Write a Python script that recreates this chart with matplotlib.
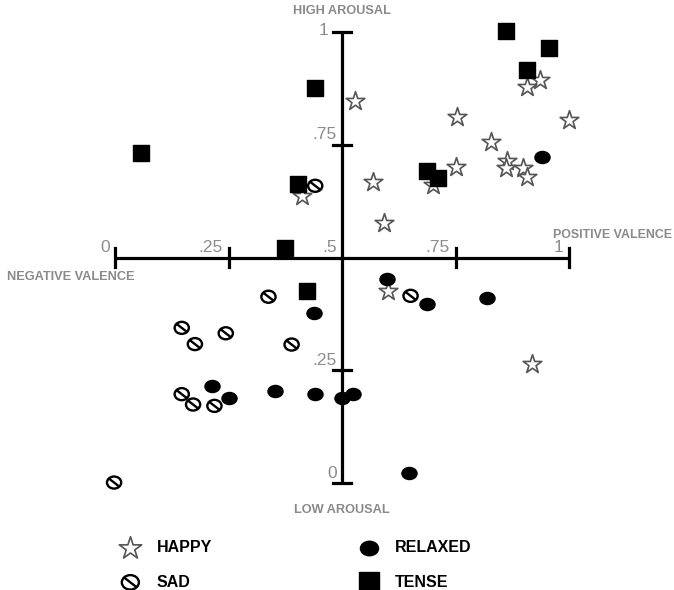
import numpy as np
import matplotlib
matplotlib.use("Agg")
from matplotlib import pyplot as plt
from matplotlib.path import Path

# valence (x) / arousal (y) values
happy_x = [0.529, 0.753, 1.000, 0.828, 0.864, 0.861, 0.899, 0.908, 0.936, 0.908,
           0.750, 0.700, 0.568, 0.593, 0.411, 0.602, 0.919]
happy_y = [0.847, 0.812, 0.805, 0.757, 0.714, 0.698, 0.698, 0.679, 0.894, 0.877,
           0.700, 0.661, 0.668, 0.576, 0.636, 0.426, 0.264]

sad_x = [0.441, 0.338, 0.147, 0.176, 0.244, 0.389, 0.147, 0.172, 0.219, -0.002, 0.651]
sad_y = [0.659, 0.413, 0.344, 0.308, 0.332, 0.307, 0.197, 0.174, 0.171, 0.001, 0.415]

relaxed_x = [0.941, 0.600, 0.688, 0.819, 0.499, 0.524, 0.648, 0.438, 0.214, 0.251, 0.352, 0.441]
relaxed_y = [0.722, 0.452, 0.397, 0.410, 0.188, 0.197, 0.022, 0.376, 0.216, 0.188, 0.205, 0.197]

tense_x = [0.057, 0.441, 0.403, 0.374, 0.423, 0.861, 0.956, 0.907, 0.687, 0.711]
tense_y = [0.732, 0.876, 0.663, 0.521, 0.426, 1.002, 0.965, 0.916, 0.692, 0.676]

tick_vals = [0, 0.25, 0.5, 0.75, 1]
tick_labels = ["0", ".25", ".5", ".75", "1"]

plt.rcParams['font.family'] = ['Liberation Sans', 'DejaVu Sans']

# slightly wide ellipse, with a "\" stroke for the sad marker
circ = Path.unit_circle()
ell_verts = circ.vertices * np.array([1.18, 1.0])
ellipse = Path(ell_verts, circ.codes)
slash = Path([(-0.80, 0.62), (0.80, -0.62)], [Path.MOVETO, Path.LINETO])
sad_marker = Path.make_compound_path(ellipse, slash)
relaxed_marker = Path(circ.vertices * np.array([1.25, 1.0]), circ.codes)

fig = plt.figure(figsize=(6.74, 5.9), dpi=100)
ax = fig.add_axes([0, 0, 1, 1])
ax.set_xlim(-115 / 454, (674 - 115) / 454)
ax.set_ylim((483 - 590) / 451, 483 / 451)
ax.axis("off")

# cross shaped axes
ax.plot([0, 1], [0.5, 0.5], color="black", lw=2.3, solid_capstyle="butt", zorder=1)
ax.plot([0.5, 0.5], [0, 1], color="black", lw=2.3, solid_capstyle="butt", zorder=1)
tick_col = "#8c8c8c"
for t, lab in zip(tick_vals, tick_labels):
    if t != 0.5:
        ax.plot([t, t], [0.48, 0.52], color="black", lw=2.3, zorder=1)
        ax.plot([0.48, 0.52], [t, t], color="black", lw=2.3, zorder=1)
    ax.text(t - 0.012, 0.505, lab, color=tick_col, fontsize=12.5, ha="right", va="bottom")
    if t == 1:
        ax.text(0.469, t + 0.004, lab, color=tick_col, fontsize=12.5, ha="right", va="center")
    elif t != 0.5:
        ax.text(0.488, t + 0.005, lab, color=tick_col, fontsize=12.5, ha="right", va="bottom")

lab_kw = dict(color="#8a8a8a", fontsize=9.2, fontweight="bold")
ax.text(0.5, 1.047, "HIGH AROUSAL", ha="center", va="center", **lab_kw)
ax.text(0.5, -0.06, "LOW AROUSAL", ha="center", va="center", **lab_kw)
ax.text(-0.238, 0.456, "NEGATIVE VALENCE", ha="left", va="center", **lab_kw)
ax.text(0.965, 0.549, "POSITIVE VALENCE", ha="left", va="center",
        color="#8a8a8a", fontsize=8.9, fontweight="bold")

ax.scatter(happy_x, happy_y, marker="*", s=200, facecolors="white",
           edgecolors="#555555", linewidths=1.2, zorder=3, label="HAPPY")
ax.scatter(sad_x, sad_y, marker=sad_marker, s=105, facecolors="none",
           edgecolors="black", linewidths=1.7, zorder=3, label="SAD")
ax.scatter(relaxed_x, relaxed_y, marker=relaxed_marker, s=118, color="black",
           zorder=4, label="RELAXED")
ax.scatter(tense_x, tense_y, marker="s", s=130, color="black",
           zorder=4, label="TENSE")

leg = ax.legend(loc="upper left", bbox_to_anchor=(100 / 674, 1 - 526 / 590),
                bbox_transform=fig.transFigure, ncol=2, frameon=False,
                prop={"weight": "bold", "size": 11.5}, handletextpad=0.65,
                columnspacing=8.8, labelspacing=1.2, scatterpoints=1,
                markerscale=1.2)

plt.savefig("out.png", dpi=100)
